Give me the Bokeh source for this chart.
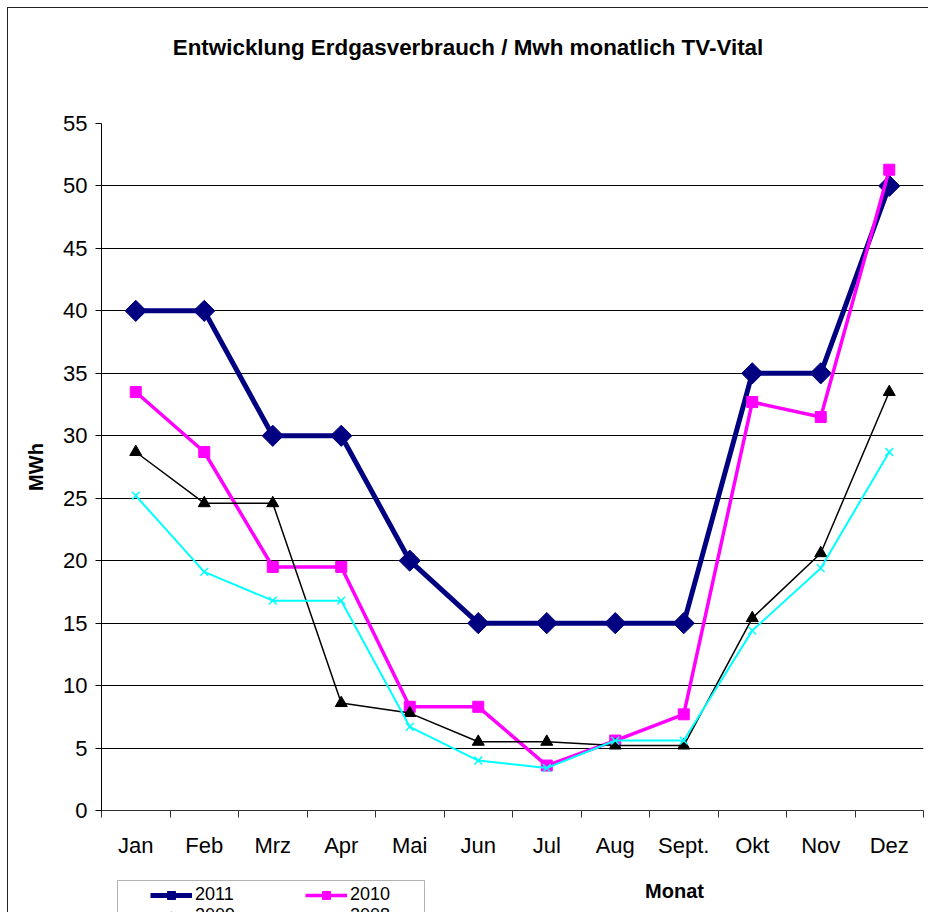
import numpy as np
from bokeh.plotting import figure
from bokeh.layouts import column
from bokeh.models import FixedTicker, Legend, LegendItem, Range1d, Label, BoxAnnotation
from bokeh.embed import file_html
from bokeh.resources import INLINE

months = ["Jan", "Feb", "Mrz", "Apr", "Mai", "Jun", "Jul", "Aug", "Sept.", "Okt", "Nov", "Dez"]
y2011 = [40, 40, 30, 30, 20, 15, 15, 15, 15, 35, 35, 50]
y2010 = [33.5, 28.7, 19.5, 19.5, 8.3, 8.3, 3.6, 5.6, 7.7, 32.7, 31.5, 51.3]
y2009 = [28.7, 24.6, 24.6, 8.6, 7.8, 5.5, 5.5, 5.2, 5.2, 15.4, 20.6, 33.5]
y2008 = [25.2, 19.1, 16.8, 16.8, 6.7, 4.0, 3.4, 5.6, 5.6, 14.4, 19.4, 28.7]
y_ticks = list(range(0, 56, 5))
title_text = "Entwicklung Erdgasverbrauch / Mwh monatlich TV-Vital"
x_title = "Monat"
y_title = "MWh"
series_names = ["2011", "2010", "2009", "2008"]

x = [i + 0.5 for i in range(len(months))]
W = 920
BL, BR = 93, 5
FONT = "Liberation Sans"

styles = {
    "2011": dict(line_color="#000080", line_width=5, marker="square", angle=np.pi / 4, size=15,
                 fill_color="#000080", mline="#000080", mlw=1),
    "2010": dict(line_color="#FF00FF", line_width=3.5, marker="square", angle=0, size=11,
                 fill_color="#FF00FF", mline="#FF00FF", mlw=1),
    "2009": dict(line_color="black", line_width=1.5, marker="triangle", angle=0, size=12,
                 fill_color="black", mline="black", mlw=1),
    "2008": dict(line_color="#00FFFF", line_width=2, marker="x", angle=0, size=11,
                 fill_color=None, mline="#00FFFF", mlw=1.5),
}
values = {"2011": y2011, "2010": y2010, "2009": y2009, "2008": y2008}


def blank_fig(h):
    f = figure(width=W, height=h, output_backend="svg", toolbar_location=None,
               x_range=Range1d(BL, W - BR), y_range=Range1d(0, h),
               x_axis_type=None, y_axis_type=None,
               min_border_left=BL, min_border_right=BR, min_border_top=0, min_border_bottom=0)
    f.outline_line_color = None
    f.xgrid.visible = False
    f.ygrid.visible = False
    f.background_fill_color = "white"
    f.border_fill_color = "white"
    return f


# ---------- title panel ----------
HT = 72
pt = blank_fig(HT)
pt.add_layout(Label(x=459.5, y=HT - 39, text=title_text, text_font=FONT,
                    text_font_style="bold", text_font_size="22.4px", text_color="black",
                    text_align="center", text_baseline="middle"))

# ---------- main chart ----------
p = figure(width=W, height=782, output_backend="svg", toolbar_location=None,
           x_range=Range1d(0, 12), y_range=Range1d(0, 55),
           min_border_left=BL, min_border_right=BR, min_border_top=43, min_border_bottom=52)
p.outline_line_color = None
p.background_fill_color = "white"
p.border_fill_color = "white"

p.xaxis.ticker = FixedTicker(ticks=x, minor_ticks=list(range(0, 13)))
p.xaxis.major_label_overrides = {v: m for v, m in zip(x, months)}
p.xaxis.major_tick_out = 0
p.xaxis.major_tick_in = 0
p.xaxis.minor_tick_out = 7
p.xaxis.minor_tick_in = 0
p.xaxis.major_label_standoff = 15
p.xaxis.major_label_text_font = FONT
p.xaxis.major_label_text_font_size = "22px"
p.xaxis.major_label_text_color = "black"
p.xaxis.axis_line_color = "#333333"
p.xaxis.minor_tick_line_color = "#333333"

p.yaxis.ticker = FixedTicker(ticks=y_ticks, minor_ticks=[])
p.yaxis.major_tick_out = 6
p.yaxis.major_tick_in = 0
p.yaxis.major_label_standoff = 8
p.yaxis.major_label_text_font = FONT
p.yaxis.major_label_text_font_size = "22px"
p.yaxis.major_label_text_color = "black"
p.yaxis.axis_line_color = "black"
p.yaxis.axis_label = y_title
p.yaxis.axis_label_text_font = FONT
p.yaxis.axis_label_text_font_style = "bold"
p.yaxis.axis_label_text_font_size = "20px"
p.yaxis.axis_label_standoff = 13
p.yaxis.axis_label_text_color = "black"

p.xgrid.grid_line_color = None
p.ygrid.grid_line_color = "black"
p.ygrid.grid_line_width = 1

for name in series_names:
    s = styles[name]
    p.line(x, values[name], line_color=s["line_color"], line_width=s["line_width"])
    p.scatter(x, values[name], marker=s["marker"], angle=s["angle"], size=s["size"],
              fill_color=s["fill_color"], line_color=s["mline"], line_width=s["mlw"])

# ---------- bottom panel: legend + x-axis title ----------
HB = 50
pb = blank_fig(HB)
# off-screen range: the legend's renderers carry the series but fall outside this panel
pb.extra_y_ranges = {"hidden": Range1d(1000, 1001)}
pb.add_layout(BoxAnnotation(left=109, right=416, top=HB - 18, bottom=-40,
                            fill_color="white", fill_alpha=1,
                            line_color="black", line_width=1))
items = []
for name in series_names:
    s = styles[name]
    lr = pb.line(x, values[name], y_range_name="hidden",
                 line_color=s["line_color"], line_width=s["line_width"])
    mr = pb.scatter(x, values[name], y_range_name="hidden", marker=s["marker"],
                    angle=s["angle"], size=s["size"], fill_color=s["fill_color"],
                    line_color=s["mline"], line_width=s["mlw"])
    items.append(LegendItem(label=name, renderers=[lr, mr]))
legend = Legend(items=items, orientation="horizontal", ncols=2,
                location=(49, -14), border_line_color=None, background_fill_alpha=0,
                padding=4, spacing=0, margin=0, glyph_width=42, glyph_height=20,
                label_standoff=3, label_width=110, label_height=18,
                label_text_font=FONT, label_text_font_size="18px", label_text_color="black")
pb.add_layout(legend)
pb.add_layout(Label(x=666, y=HB - 28, text=x_title, text_font=FONT, text_font_style="bold",
                    text_font_size="20px", text_color="black",
                    text_align="center", text_baseline="middle"))

layout = column(pt, p, pb, spacing=0,
                styles={"margin-left": "7px", "margin-top": "7px",
                        "border-left": "1px solid #222222", "border-top": "1px solid #222222"})

open("out.html", "w").write(file_html(layout, INLINE))
